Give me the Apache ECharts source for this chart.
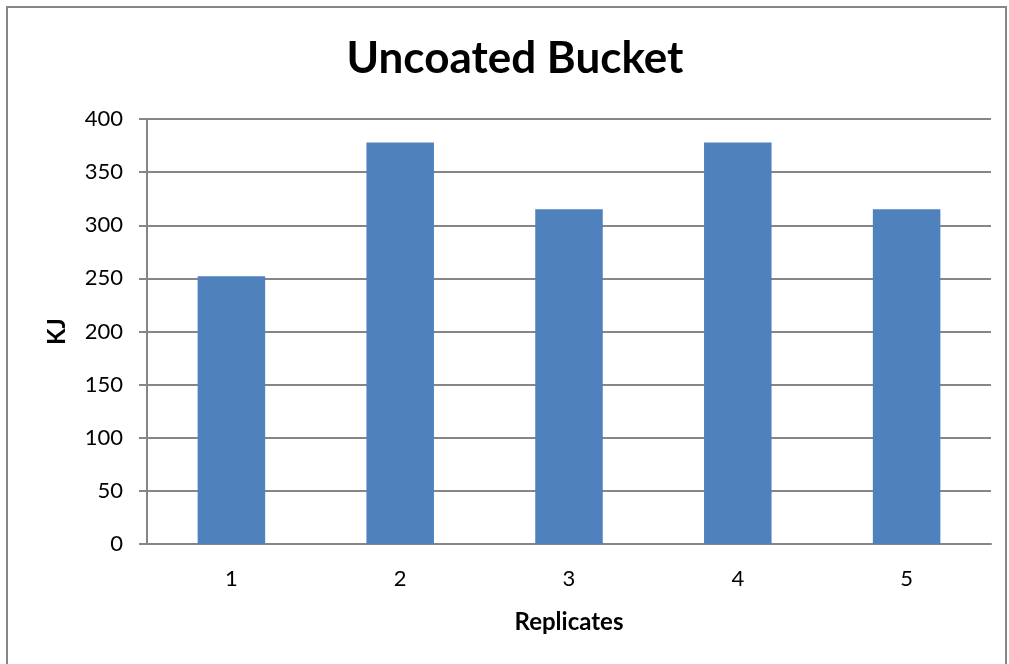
<!DOCTYPE html>
<html>
<head>
<meta charset="utf-8">
<script src="https://cdn.jsdelivr.net/npm/echarts@6/dist/echarts.min.js"></script>
<style>
  html, body { margin: 0; padding: 0; background: #ffffff; }
  #chart { width: 1009px; height: 664px; }
</style>
</head>
<body>
<div id="chart"></div>
<script>
// Energy per replicate for the uncoated bucket
const replicates = ['1', '2', '3', '4', '5'];
const energyKJ = [252, 378, 315, 378, 315];
const yTicks = { min: 0, max: 400, interval: 50 };

const FONT = 'Lato, "Open Sans", sans-serif';
const chart = echarts.init(document.getElementById('chart'), null, { renderer: 'canvas' });

chart.setOption({
  backgroundColor: '#ffffff',
  animation: false,
  title: {
    text: 'Uncoated Bucket',
    left: 510,
    textAlign: 'center',
    top: 32,
    textStyle: { fontFamily: FONT, fontWeight: 'bold', fontSize: 44, color: '#000000' }
  },
  graphic: [{
    type: 'rect',
    shape: { x: 7, y: 7, width: 999, height: 680 },
    style: { fill: 'none', stroke: '#868686', lineWidth: 2 },
    silent: true
  }],
  grid: { left: 147, right: 18, top: 119, bottom: 120, containLabel: false },
  xAxis: {
    type: 'category',
    data: replicates,
    name: 'Replicates',
    nameLocation: 'middle',
    nameGap: 66,
    nameTextStyle: { fontFamily: FONT, fontWeight: 'bold', fontSize: 24, color: '#000000' },
    axisLine: { lineStyle: { color: '#868686', width: 2 } },
    axisTick: { show: false },
    axisLabel: { fontFamily: FONT, fontSize: 22, color: '#000000', margin: 24 },
    splitLine: { show: false }
  },
  yAxis: {
    type: 'value',
    min: yTicks.min,
    max: yTicks.max,
    interval: yTicks.interval,
    name: 'KJ',
    nameLocation: 'middle',
    nameGap: 78,
    nameRotate: 90,
    nameTextStyle: { fontFamily: FONT, fontWeight: 'bold', fontSize: 24, color: '#000000' },
    axisLine: { show: true, lineStyle: { color: '#868686', width: 2 } },
    axisTick: { show: true, length: 8, lineStyle: { color: '#868686', width: 2 } },
    axisLabel: { fontFamily: FONT, fontSize: 22, color: '#000000', margin: 24 },
    splitLine: { show: true, lineStyle: { color: '#868686', width: 2 } }
  },
  series: [{
    type: 'bar',
    data: energyKJ,
    barWidth: '40%',
    itemStyle: { color: '#4F81BD' }
  }]
});
</script>
</body>
</html>
